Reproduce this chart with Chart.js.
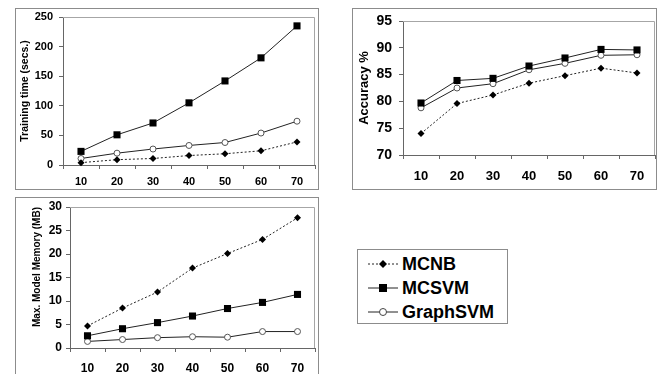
<!DOCTYPE html>
<html>
<head>
<meta charset="utf-8">
<script src="https://cdn.jsdelivr.net/npm/chart.js@4.4.1/dist/chart.umd.min.js"></script>
<style>
  body { margin: 0; background: #fff; width: 667px; height: 374px; overflow: hidden; position: relative; font-family: "Liberation Sans", Arial, sans-serif; }
  .frame { position: absolute; border: 1px solid #8c8c8c; box-sizing: border-box; }
  canvas { position: absolute; }
  #legend { position: absolute; left: 357px; top: 249px; width: 151px; height: 75px; border: 1px solid #8c8c8c; box-sizing: border-box; }
  .row { position: absolute; left: 10px; height: 22px; display: flex; align-items: center; }
  .row span { font-weight: bold; font-size: 18px; color: #000; margin-left: 4px; }
</style>
</head>
<body>
<div class="frame" style="left:15px;top:8px;width:304px;height:182px"></div>
<div class="frame" style="left:352px;top:8px;width:305px;height:182px"></div>
<div class="frame" style="left:15px;top:197px;width:304px;height:200px"></div>

<canvas id="timeChart" width="320" height="195" style="left:0;top:0"></canvas>
<canvas id="accChart" width="330" height="195" style="left:330px;top:0"></canvas>
<canvas id="memChart" width="320" height="179" style="left:0;top:195px"></canvas>

<div id="legend">
  <div class="row" style="top:3px">
    <svg width="30" height="12"><line x1="0" y1="6" x2="30" y2="6" stroke="#222" stroke-width="1" stroke-dasharray="2,2"/><polygon points="15,2 19,6 15,10 11,6" fill="#000"/></svg>
    <span>MCNB</span>
  </div>
  <div class="row" style="top:27px">
    <svg width="30" height="12"><line x1="0" y1="6" x2="30" y2="6" stroke="#222" stroke-width="1"/><rect x="11" y="2" width="8" height="8" fill="#000"/></svg>
    <span>MCSVM</span>
  </div>
  <div class="row" style="top:51px">
    <svg width="30" height="12"><line x1="0" y1="6" x2="30" y2="6" stroke="#222" stroke-width="1"/><circle cx="15" cy="6" r="3.5" fill="#fff" stroke="#444" stroke-width="1"/></svg>
    <span>GraphSVM</span>
  </div>
</div>

<script>
// Data
const xLabels = ["10", "20", "30", "40", "50", "60", "70"]

const timeMCNB = [4, 9, 11, 16, 19, 24, 39]
const timeMCSVM = [23, 51, 71, 105, 142, 181, 235]
const timeGraphSVM = [11, 20, 27, 33, 38, 54, 74]

const accMCNB = [74.0, 79.6, 81.2, 83.4, 84.8, 86.2, 85.3]
const accMCSVM = [79.7, 83.9, 84.3, 86.6, 88.1, 89.7, 89.6]
const accGraphSVM = [78.8, 82.5, 83.3, 85.9, 87.1, 88.6, 88.7]

const memMCNB = [4.7, 8.5, 11.9, 17.0, 20.1, 23.1, 27.7]
const memMCSVM = [2.6, 4.1, 5.4, 6.8, 8.4, 9.7, 11.4]
const memGraphSVM = [1.4, 1.8, 2.2, 2.4, 2.3, 3.5, 3.5]

const FONT = "'Liberation Sans', Arial, sans-serif"

// gray top/right border of the plot area, like the original
const plotBorder = {
  id: "plotBorder",
  beforeDatasetsDraw(chart) {
    const { ctx, chartArea: a } = chart
    ctx.save()
    ctx.strokeStyle = "#a6a6a6"
    ctx.lineWidth = 1
    ctx.beginPath()
    ctx.moveTo(a.left, a.top + 0.5)
    ctx.lineTo(a.right - 0.5, a.top + 0.5)
    ctx.lineTo(a.right - 0.5, a.bottom)
    ctx.stroke()
    ctx.restore()
  },
}

function buildDatasets(mcnb, mcsvm, graph) {
  return [
    {
      label: "MCNB",
      data: mcnb,
      borderColor: "#222",
      borderWidth: 1,
      borderDash: [2, 2],
      pointStyle: "rectRot",
      pointRadius: 3.5,
      pointBackgroundColor: "#000",
      pointBorderColor: "#000",
      pointBorderWidth: 0,
    },
    {
      label: "MCSVM",
      data: mcsvm,
      borderColor: "#222",
      borderWidth: 1,
      pointStyle: "rect",
      pointRadius: 5,
      pointBackgroundColor: "#000",
      pointBorderColor: "#000",
      pointBorderWidth: 0,
    },
    {
      label: "GraphSVM",
      data: graph,
      borderColor: "#222",
      borderWidth: 1,
      pointStyle: "circle",
      pointRadius: 3,
      pointBackgroundColor: "#fff",
      pointBorderColor: "#555",
      pointBorderWidth: 1,
    },
  ]
}

function makeChart(id, datasets, cfg) {
  const ctx = document.getElementById(id).getContext("2d")
  return new Chart(ctx, {
    type: "line",
    data: { labels: xLabels, datasets: datasets },
    options: {
      responsive: false,
      animation: false,
      devicePixelRatio: 1,
      clip: false,
      layout: { padding: cfg.padding },
      plugins: { legend: { display: false }, tooltip: { enabled: false } },
      datasets: { line: { clip: false } },
      scales: {
        x: {
          offset: true,
          grid: { offset: true, drawOnChartArea: false, drawTicks: true, tickLength: 4, color: "#666" },
          border: { color: "#666" },
          ticks: {
            color: "#000",
            font: { family: FONT, size: cfg.xFont, weight: "bold" },
            padding: cfg.xPad,
            maxRotation: 0,
            autoSkip: false,
          },
          afterFit: (s) => { s.height = cfg.xHeight },
        },
        y: {
          min: cfg.min,
          max: cfg.max,
          grid: { drawOnChartArea: false, drawTicks: true, tickLength: 4, color: "#666" },
          border: { color: "#666" },
          ticks: {
            stepSize: cfg.step,
            color: "#000",
            font: { family: FONT, size: cfg.yFont, weight: "bold" },
            padding: cfg.yPad,
          },
          title: {
            display: true,
            text: cfg.title,
            color: "#000",
            align: cfg.titleAlign || "center",
            font: { family: FONT, size: cfg.titleFont, weight: "bold" },
            padding: { top: cfg.titlePad, bottom: 0 },
          },
          afterFit: (s) => { s.width = cfg.yWidth },
        },
      },
    },
    plugins: [plotBorder],
  })
}

makeChart("timeChart", buildDatasets(timeMCNB, timeMCSVM, timeGraphSVM), {
  padding: { left: 0, top: 17, right: 2, bottom: 0 },
  min: 0, max: 250, step: 50,
  xFont: 11, xPad: 6, xHeight: 30,
  yFont: 11, yPad: 6, yWidth: 63,
  title: "Training time (secs.)", titleFont: 10.5, titlePad: 19,
})

makeChart("accChart", buildDatasets(accMCNB, accMCSVM, accGraphSVM), {
  padding: { left: 0, top: 21, right: 4, bottom: 0 },
  min: 70, max: 95, step: 5,
  xFont: 13, xPad: 10, xHeight: 40,
  yFont: 14, yPad: 7, yWidth: 73,
  title: "Accuracy %", titleFont: 13, titlePad: 27,
})

makeChart("memChart", buildDatasets(memMCNB, memMCSVM, memGraphSVM), {
  padding: { left: 0, top: 12, right: 2, bottom: 0 },
  min: 0, max: 30, step: 5,
  xFont: 12, xPad: 9, xHeight: 26,
  yFont: 12, yPad: 4, yWidth: 70,
  title: "Max. Model Memory (MB)", titleFont: 10, titlePad: 31, titleAlign: "end",
})
</script>
</body>
</html>
